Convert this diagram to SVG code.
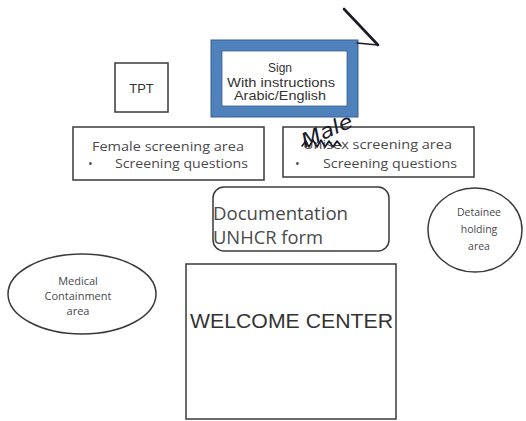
<svg xmlns="http://www.w3.org/2000/svg" width="526" height="421" viewBox="0 0 526 421">
  <style>
    .box { fill: #ffffff; stroke: #3a3a3a; stroke-width: 1.5; }
    .oval { fill: #ffffff; stroke: #3a3a3a; stroke-width: 1.5; }
    .cal { font-family: "Open Sans", "Lato", "DejaVu Sans", sans-serif; fill: #4a4a4a; }
    .ari { font-family: "Liberation Sans", Arial, sans-serif; fill: #333333; }
    .pen { fill: none; stroke: #1a1a2a; stroke-linecap: round; stroke-linejoin: round; }
  </style>
  <rect x="0" y="0" width="526" height="421" fill="#ffffff"/>

  <g id="node-tpt">
    <rect class="box" x="115" y="63" width="53" height="49"/>
    <text class="ari" x="141.5" y="93" font-size="13" text-anchor="middle">TPT</text>
  </g>

  <g id="node-sign">
    <rect x="216.5" y="45.5" width="136" height="66" fill="#ffffff" stroke="#4f81bd" stroke-width="11"/>
    <rect x="211" y="40" width="147" height="77" fill="none" stroke="#3b5f8c" stroke-width="1"/>
    <rect x="222" y="51" width="125" height="55" fill="none" stroke="#3b5f8c" stroke-width="0.8"/>
    <text class="ari" x="280" y="72" font-size="12" text-anchor="middle" fill="#444444">Sign</text>
    <text class="ari" x="227" y="87" font-size="12.5" fill="#444444" textLength="108" lengthAdjust="spacingAndGlyphs">With instructions</text>
    <text class="ari" x="234" y="100" font-size="12.5" fill="#444444" textLength="92" lengthAdjust="spacingAndGlyphs">Arabic/English</text>
  </g>

  <g id="node-female-screening">
    <rect class="box" x="73" y="127" width="191" height="53"/>
    <text class="cal" x="92" y="151" font-size="12.5" textLength="152" lengthAdjust="spacingAndGlyphs">Female screening area</text>
    <text class="cal" x="88" y="168" font-size="12.5">•</text>
    <text class="cal" x="115" y="168" font-size="12.5" textLength="133" lengthAdjust="spacingAndGlyphs">Screening questions</text>
  </g>

  <g id="node-male-screening">
    <rect class="box" x="283" y="127" width="191" height="50"/>
    <text class="cal" x="303" y="149" font-size="12.5" textLength="149" lengthAdjust="spacingAndGlyphs">Unisex screening area</text>
    <text class="cal" x="295" y="168" font-size="12.5">•</text>
    <text class="cal" x="323" y="168" font-size="12.5" textLength="134" lengthAdjust="spacingAndGlyphs">Screening questions</text>
    <path class="pen" stroke-width="1.6" d="M302,146 L306,141 L309,147 L313,140 L317,147 L321,140 L325,147 L329,141 L333,147 L337,141 L341,146"/>
    <text x="305" y="148" font-family="DejaVu Sans, sans-serif" font-style="italic" font-size="20" fill="#1a1a2a" transform="rotate(-24 305 148)" textLength="54" lengthAdjust="spacingAndGlyphs">Male</text>
  </g>

  <g id="node-documentation">
    <rect class="box" x="213" y="187" width="176" height="64" rx="11" ry="11"/>
    <text class="cal" x="213" y="220" font-size="18.5" fill="#2a2a2a" textLength="135" lengthAdjust="spacingAndGlyphs">Documentation</text>
    <text class="cal" x="213" y="244" font-size="18.5" fill="#2a2a2a" textLength="110" lengthAdjust="spacingAndGlyphs">UNHCR form</text>
  </g>

  <g id="node-detainee">
    <ellipse class="oval" cx="475" cy="230" rx="47" ry="42"/>
    <text class="cal" x="479" y="216" font-size="10.5" text-anchor="middle">Detainee</text>
    <text class="cal" x="479" y="233" font-size="10.5" text-anchor="middle">holding</text>
    <text class="cal" x="479" y="250" font-size="10.5" text-anchor="middle">area</text>
  </g>

  <g id="node-medical">
    <ellipse class="oval" cx="82" cy="294" rx="74" ry="40"/>
    <text class="cal" x="78" y="285" font-size="11" text-anchor="middle">Medical</text>
    <text class="cal" x="78" y="300" font-size="11" text-anchor="middle">Containment</text>
    <text class="cal" x="78" y="315" font-size="11" text-anchor="middle">area</text>
  </g>

  <g id="node-welcome">
    <rect class="box" x="186" y="264" width="210" height="155"/>
    <text class="ari" x="190" y="328" font-size="20.5" textLength="203" lengthAdjust="spacingAndGlyphs">WELCOME CENTER</text>
  </g>

  <g id="connectors"></g>

  <g id="annotations">
    <path class="pen" stroke-width="2.6" d="M344,9 L378,45"/>
    <path class="pen" stroke-width="1.4" d="M378,45 L357,43"/>
  </g>
</svg>
